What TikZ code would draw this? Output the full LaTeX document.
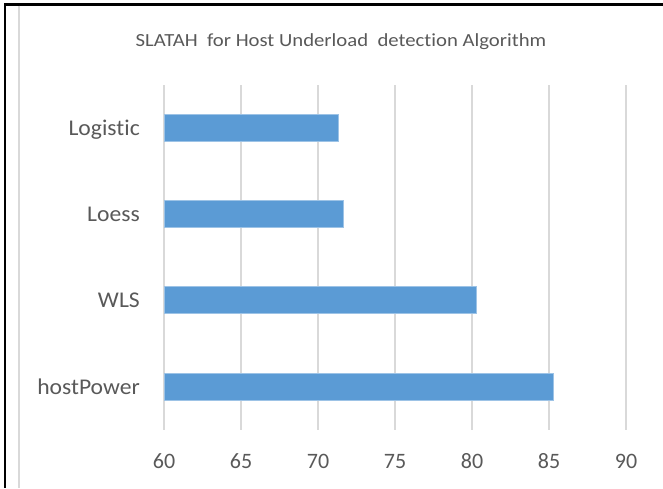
\documentclass[tikz,border=0pt]{standalone}
\usepackage{fontspec}
\setmainfont[Ligatures=NoCommon]{Carlito}
\definecolor{txtgray}{HTML}{595959}
\definecolor{gridgray}{HTML}{D9D9D9}
\definecolor{barblue}{HTML}{5B9BD5}
\definecolor{baredge}{HTML}{9DC3E6}
\tikzset{
  gridline/.style={draw=gridgray, line width=1.6pt},
  barbox/.style={fill=barblue, draw=baredge, line width=0.6pt},
  catlabel/.style={anchor=base east, text=txtgray, font=\fontsize{22.5}{26}\selectfont, inner sep=0pt, xscale=1.05},
  ticklabel/.style={anchor=base, text=txtgray, font=\fontsize{22}{26}\selectfont, inner sep=0pt},
  titlelabel/.style={anchor=base, text=txtgray, font=\fontsize{18.5}{22}\selectfont, inner sep=0pt, xscale=1.12}
}
\begin{document}
\begin{tikzpicture}[x=1pt, y=-1pt]
  \useasboundingbox (0,0) rectangle (663,488);
  % frame lines
  \draw[black, line width=2.2pt] (4,4.5) -- (663,4.5);
  \draw[black, line width=2.2pt] (5,4) -- (5,488);
  \draw[gridgray, line width=1.5pt] (19,5.5) -- (19,488);
  % title
  \node[titlelabel] (title) at (341,46.5) {SLATAH\ \ for Host Underload\ \ detection Algorithm};
  % vertical grid lines and tick labels, 60..90 step 5
  \foreach \v [count=\i] in {60,65,70,75,80,85,90} {
    \pgfmathsetmacro{\xx}{164+(\v-60)*15.4}
    \draw[gridline] (\xx,85) -- (\xx,430);
    \node[ticklabel] (tick\i) at (\xx,468.5) {\v};
  }
  % bars
  \foreach \name/\val/\c in {Logistic/71.32/128, Loess/71.67/214, WLS/80.30/300, hostPower/85.26/386.5} {
    \pgfmathsetmacro{\xe}{164+(\val-60)*15.4}
    \draw[barbox] (164.5,\c-13.3) rectangle (\xe,\c+13.3);
    \node[catlabel] (lab\name) at (140,\c+7.5) {\name};
  }
\end{tikzpicture}
\end{document}
